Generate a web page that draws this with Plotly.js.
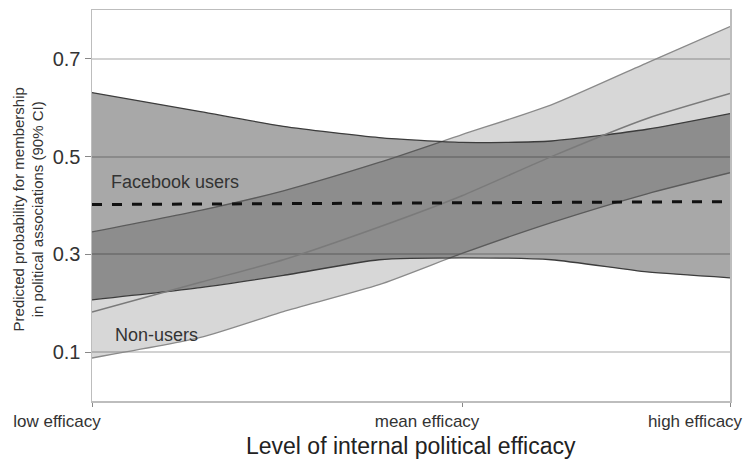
<!DOCTYPE html>
<html>
<head>
<meta charset="utf-8">
<script src="https://cdn.plot.ly/plotly-3.0.1.min.js"></script>
<style>html,body{margin:0;padding:0;background:#fff;}#chart{width:748px;height:462px;}</style>
</head>
<body>
<div id="chart"></div>
<script>
// efficacy position (0 = low, 0.58 = mean, 1 = high)
const efficacy = [0, 0.17, 0.30, 0.45, 0.58, 0.72, 0.87, 1];
// Facebook users: predicted probability and 90% CI
const fbMean  = [0.402, 0.403, 0.404, 0.405, 0.406, 0.407, 0.407, 0.408];
const fbUpper = [0.631, 0.592, 0.562, 0.539, 0.529, 0.532, 0.556, 0.588];
const fbLower = [0.207, 0.232, 0.257, 0.289, 0.293, 0.289, 0.264, 0.252];
// Non-users
const nuMean  = [0.182, 0.243, 0.289, 0.356, 0.420, 0.500, 0.578, 0.629];
const nuUpper = [0.346, 0.390, 0.430, 0.488, 0.545, 0.606, 0.692, 0.766];
const nuLower = [0.088, 0.130, 0.183, 0.238, 0.302, 0.365, 0.424, 0.467];
const tickVals = [0, 0.58, 1];
const tickText = ['low efficacy', 'mean efficacy', 'high efficacy'];
const yTicks = [0.1, 0.3, 0.5, 0.7];

const FONT = 'Liberation Sans, Arial, sans-serif';
const sp = {shape: 'spline', smoothing: 0.6};
const traces = [
  {x: efficacy, y: nuLower, mode: 'lines', line: Object.assign({color: '#8a8a8a', width: 1.3}, sp), hoverinfo: 'skip'},
  {x: efficacy, y: nuUpper, mode: 'lines', fill: 'tonexty', fillcolor: 'rgba(0,0,0,0.155)', line: Object.assign({color: '#8a8a8a', width: 1.3}, sp), hoverinfo: 'skip'},
  {x: efficacy, y: fbLower, mode: 'lines', line: Object.assign({color: '#3c3c3c', width: 1.3}, sp), hoverinfo: 'skip'},
  {x: efficacy, y: fbUpper, mode: 'lines', fill: 'tonexty', fillcolor: 'rgba(0,0,0,0.34)', line: Object.assign({color: '#3c3c3c', width: 1.3}, sp), hoverinfo: 'skip'},
  {x: efficacy, y: nuMean, mode: 'lines', line: Object.assign({color: '#7a7a7a', width: 1.5}, sp), hoverinfo: 'skip'},
  {x: efficacy, y: fbMean, mode: 'lines', line: {color: '#111', width: 3, dash: '10px,10px'}, hoverinfo: 'skip'}
];

const layout = {
  width: 748, height: 462,
  margin: {l: 92, r: 18, t: 10, b: 61},
  paper_bgcolor: '#fff', plot_bgcolor: '#fff',
  showlegend: false,
  font: {family: FONT, color: '#333'},
  xaxis: {
    range: [0, 1], tickvals: tickVals, ticktext: tickText,
    ticks: 'outside', ticklen: 4, tickcolor: '#888', tickwidth: 1,
    ticklabelshift: -35,
    tickfont: {size: 17, color: '#333', family: FONT},
    showgrid: false, zeroline: false,
    showline: true, linecolor: '#bdbdbd', linewidth: 1.5, mirror: true
  },
  yaxis: {
    range: [0, 0.8], tickvals: yTicks, ticktext: yTicks.map(v => v.toFixed(1)),
    ticks: 'outside', ticklen: 6, tickcolor: '#888', tickwidth: 1,
    tickfont: {size: 20, color: '#333', family: FONT},
    showgrid: true, gridcolor: '#d2d2d2', gridwidth: 2,
    zeroline: false,
    showline: true, linecolor: '#bdbdbd', linewidth: 1.5, mirror: true
  },
  annotations: [
    {text: 'Facebook users', xref: 'x', yref: 'y', x: 0.026, y: 0.449, xanchor: 'left', yanchor: 'middle', showarrow: false, font: {size: 18, color: '#333', family: FONT}},
    {text: 'Non-users', xref: 'x', yref: 'y', x: 0.033, y: 0.135, xanchor: 'left', yanchor: 'middle', showarrow: false, font: {size: 18, color: '#333', family: FONT}},
    {text: 'Level of internal political efficacy', xref: 'paper', yref: 'paper', x: 0.5, y: -0.114, xanchor: 'center', yanchor: 'middle', showarrow: false, font: {size: 23, color: '#222', family: FONT}},
    {text: 'Predicted probability for membership<br>in political associations (90% CI)', xref: 'paper', yref: 'paper', x: -0.1003, y: 0.49, xanchor: 'center', yanchor: 'middle', textangle: -90, showarrow: false, font: {size: 15, color: '#333', family: FONT}}
  ]
};

Plotly.newPlot('chart', traces, layout, {displayModeBar: false, staticPlot: true});
</script>
</body>
</html>
